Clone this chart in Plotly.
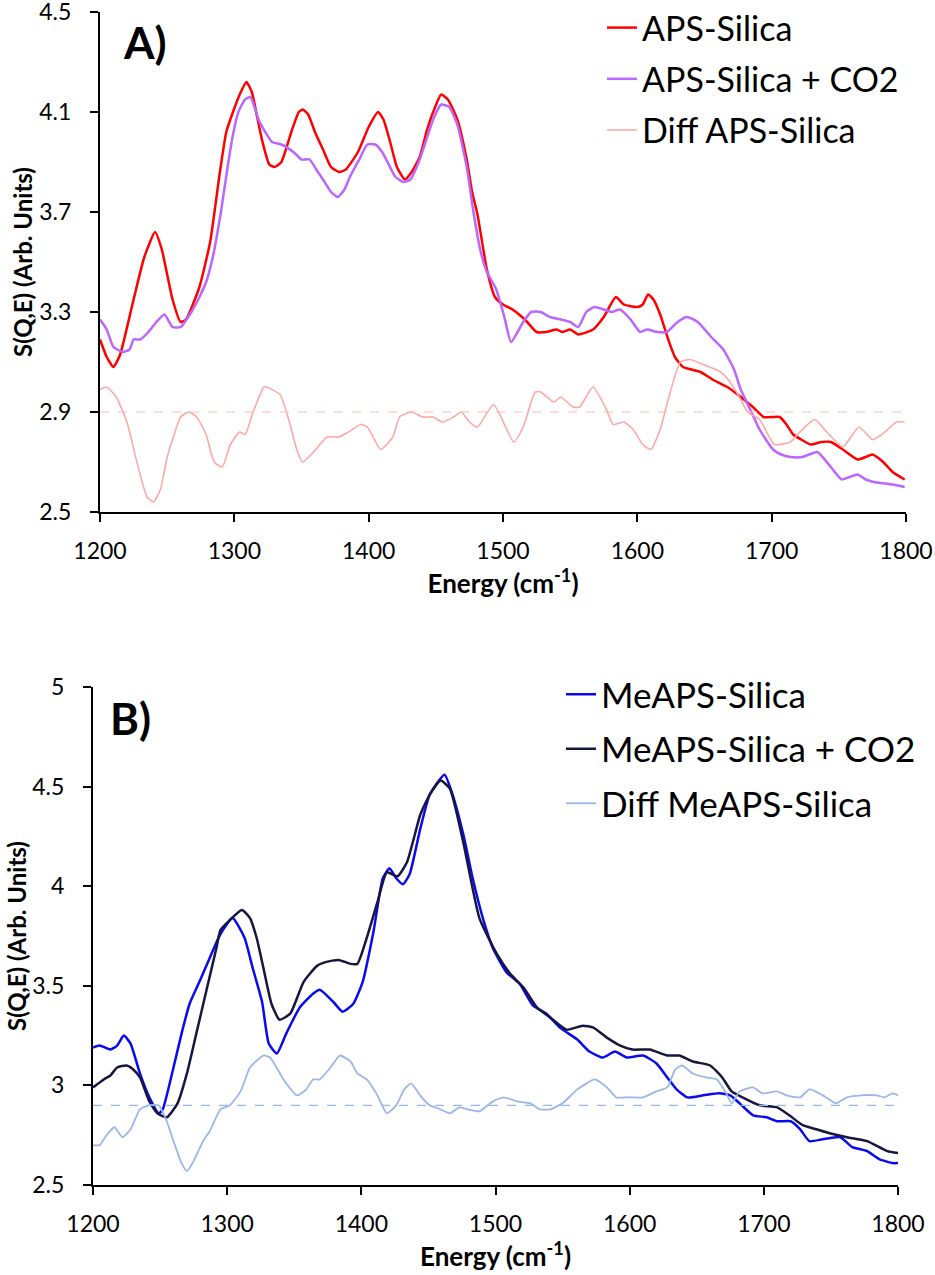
import plotly.graph_objects as go

# ---------------- data: panel A ----------------
aps_E = [1200, 1205, 1210, 1215, 1225, 1233, 1241, 1246, 1254, 1260, 1264, 1274, 1282, 1289, 1294,
         1299, 1304, 1309, 1313, 1317, 1321, 1326, 1330, 1335, 1343, 1348, 1351, 1355, 1360, 1366,
         1372, 1378, 1383, 1392, 1400, 1407, 1411, 1416, 1421, 1427, 1432, 1438, 1443, 1448, 1454,
         1459, 1466, 1473, 1477, 1481, 1488, 1494, 1500, 1507, 1512, 1518, 1525, 1532, 1540, 1544,
         1550, 1556, 1567, 1575, 1584, 1590, 1600, 1604, 1608, 1612, 1617, 1623, 1628, 1634, 1647,
         1656, 1667, 1677, 1686, 1694, 1701, 1706, 1711, 1716, 1722, 1729, 1737, 1744, 1753, 1764,
         1770, 1775, 1783, 1790, 1799]
aps_S = [3.19, 3.12, 3.08, 3.13, 3.35, 3.52, 3.62, 3.55, 3.35, 3.26, 3.27, 3.40, 3.58, 3.85, 4.02,
         4.10, 4.17, 4.22, 4.18, 4.08, 3.98, 3.89, 3.88, 3.90, 4.03, 4.10, 4.11, 4.09, 4.02, 3.95,
         3.88, 3.86, 3.87, 3.94, 4.04, 4.10, 4.07, 3.98, 3.88, 3.83, 3.86, 3.92, 4.02, 4.10, 4.17,
         4.15, 4.07, 3.91, 3.78, 3.69, 3.47, 3.36, 3.33, 3.31, 3.29, 3.26, 3.22, 3.22, 3.23, 3.22,
         3.23, 3.21, 3.23, 3.28, 3.36, 3.33, 3.32, 3.33, 3.37, 3.35, 3.29, 3.19, 3.12, 3.08, 3.06,
         3.03, 3.00, 2.96, 2.92, 2.88, 2.88, 2.88, 2.85, 2.81, 2.79, 2.77, 2.78, 2.78, 2.75, 2.71,
         2.72, 2.73, 2.70, 2.66, 2.63]

aps_co2_E = [1200, 1205, 1210, 1217, 1222, 1225, 1230, 1236, 1242, 1248, 1254, 1260, 1268, 1274, 1279,
             1284, 1290, 1295, 1299, 1303, 1308, 1312, 1315, 1318, 1323, 1328, 1335, 1344, 1350, 1356,
             1361, 1366, 1372, 1377, 1382, 1386, 1393, 1399, 1405, 1410, 1414, 1420, 1426, 1431, 1438,
             1443, 1448, 1454, 1460, 1466, 1473, 1478, 1483, 1488, 1495, 1501, 1506, 1515, 1521, 1528,
             1535, 1543, 1550, 1556, 1562, 1568, 1575, 1581, 1587, 1595, 1602, 1607, 1615, 1622, 1630,
             1637, 1645, 1655, 1664, 1672, 1677, 1684, 1691, 1701, 1707, 1714, 1723, 1734, 1744, 1752,
             1758, 1764, 1770, 1776, 1790, 1799]
aps_co2_S = [3.27, 3.23, 3.16, 3.14, 3.15, 3.19, 3.19, 3.22, 3.26, 3.29, 3.24, 3.24, 3.30, 3.36, 3.42,
             3.52, 3.70, 3.88, 4.01, 4.10, 4.15, 4.16, 4.12, 4.07, 4.02, 3.98, 3.97, 3.94, 3.91, 3.91,
             3.87, 3.83, 3.78, 3.76, 3.79, 3.84, 3.91, 3.97, 3.97, 3.94, 3.90, 3.84, 3.82, 3.83, 3.91,
             3.99, 4.07, 4.13, 4.12, 4.05, 3.88, 3.70, 3.55, 3.46, 3.39, 3.28, 3.18, 3.26, 3.30, 3.30,
             3.28, 3.27, 3.26, 3.24, 3.30, 3.32, 3.31, 3.30, 3.31, 3.27, 3.22, 3.23, 3.22, 3.22, 3.26,
             3.28, 3.26, 3.20, 3.15, 3.07, 2.99, 2.91, 2.83, 2.75, 2.73, 2.72, 2.72, 2.74, 2.68, 2.63,
             2.64, 2.65, 2.63, 2.62, 2.61, 2.60]

aps_diff_E = [1200, 1205, 1212, 1220, 1227, 1235, 1240, 1245, 1250, 1254, 1260, 1266, 1272, 1279, 1285,
              1291, 1297, 1304, 1308, 1314, 1322, 1324, 1334, 1341, 1347, 1351, 1359, 1369, 1378, 1385,
              1394, 1399, 1409, 1418, 1423, 1432, 1440, 1448, 1455, 1463, 1469, 1475, 1481, 1493, 1508,
              1515, 1524, 1528, 1538, 1543, 1552, 1557, 1567, 1577, 1582, 1590, 1597, 1604, 1610, 1617,
              1623, 1632, 1639, 1649, 1662, 1669, 1677, 1682, 1691, 1702, 1714, 1721, 1732, 1741, 1753,
              1765, 1775, 1782, 1793, 1799]
aps_diff_S = [2.99, 3.00, 2.96, 2.86, 2.71, 2.56, 2.54, 2.59, 2.72, 2.79, 2.88, 2.90, 2.88, 2.81, 2.70,
              2.68, 2.77, 2.82, 2.81, 2.90, 3.00, 3.00, 2.97, 2.86, 2.74, 2.70, 2.74, 2.80, 2.80, 2.82,
              2.85, 2.84, 2.75, 2.80, 2.88, 2.90, 2.88, 2.88, 2.86, 2.88, 2.90, 2.86, 2.84, 2.93, 2.78,
              2.84, 2.98, 2.98, 2.94, 2.96, 2.92, 2.92, 3.00, 2.91, 2.85, 2.86, 2.83, 2.77, 2.75, 2.83,
              2.95, 3.10, 3.11, 3.09, 3.06, 3.02, 2.95, 2.90, 2.87, 2.77, 2.78, 2.82, 2.87, 2.82, 2.76,
              2.84, 2.79, 2.81, 2.86, 2.86]

# ---------------- data: panel B ----------------
meaps_E = [1200, 1205, 1213, 1218, 1223, 1228, 1235, 1242, 1249, 1252, 1260, 1266, 1272, 1280, 1287,
           1295, 1304, 1313, 1319, 1326, 1331, 1337, 1344, 1354, 1364, 1369, 1379, 1386, 1394, 1401,
           1409, 1416, 1421, 1426, 1431, 1436, 1444, 1451, 1462, 1468, 1476, 1483, 1491, 1498, 1508,
           1518, 1528, 1538, 1548, 1561, 1570, 1580, 1589, 1598, 1610, 1620, 1628, 1635, 1643, 1655,
           1667, 1675, 1682, 1692, 1702, 1710, 1720, 1727, 1734, 1744, 1757, 1766, 1777, 1786, 1796,
           1800]
meaps_S = [3.19, 3.20, 3.18, 3.20, 3.25, 3.21, 3.06, 2.94, 2.86, 2.88, 3.09, 3.26, 3.41, 3.53, 3.64,
           3.76, 3.84, 3.74, 3.59, 3.42, 3.21, 3.16, 3.26, 3.39, 3.46, 3.48, 3.42, 3.37, 3.41, 3.52,
           3.77, 4.04, 4.09, 4.04, 4.01, 4.06, 4.29, 4.46, 4.56, 4.46, 4.26, 4.04, 3.83, 3.69, 3.57,
           3.51, 3.40, 3.36, 3.29, 3.23, 3.17, 3.14, 3.17, 3.14, 3.15, 3.11, 3.04, 2.98, 2.94, 2.95,
           2.96, 2.95, 2.91, 2.85, 2.84, 2.82, 2.82, 2.78, 2.72, 2.73, 2.74, 2.69, 2.67, 2.63, 2.61,
           2.61]

meaps_co2_E = [1200, 1208, 1213, 1218, 1225, 1230, 1235, 1242, 1248, 1255, 1263, 1270, 1277, 1285, 1292,
               1295, 1302, 1311, 1317, 1322, 1327, 1333, 1339, 1347, 1357, 1367, 1374, 1383, 1392, 1397,
               1404, 1412, 1419, 1427, 1434, 1444, 1451, 1459, 1466, 1476, 1488, 1501, 1511, 1521, 1531,
               1541, 1553, 1565, 1573, 1583, 1593, 1602, 1615, 1628, 1637, 1647, 1660, 1669, 1676, 1687,
               1697, 1710, 1719, 1729, 1739, 1749, 1762, 1777, 1792, 1800]
meaps_co2_S = [2.99, 3.03, 3.05, 3.09, 3.10, 3.08, 3.04, 2.92, 2.86, 2.84, 2.91, 3.06, 3.26, 3.49, 3.69,
               3.78, 3.83, 3.88, 3.84, 3.74, 3.59, 3.41, 3.33, 3.36, 3.52, 3.60, 3.62, 3.63, 3.61, 3.61,
               3.74, 3.92, 4.07, 4.05, 4.12, 4.36, 4.46, 4.53, 4.49, 4.22, 3.84, 3.66, 3.56, 3.49, 3.39,
               3.34, 3.28, 3.30, 3.29, 3.24, 3.20, 3.18, 3.18, 3.15, 3.15, 3.12, 3.10, 3.04, 2.97, 2.93,
               2.90, 2.89, 2.85, 2.80, 2.78, 2.76, 2.74, 2.72, 2.67, 2.66]

meaps_diff_E = [1200, 1205, 1210, 1216, 1222, 1228, 1235, 1242, 1249, 1255, 1260, 1266, 1270, 1275, 1282,
                1287, 1295, 1302, 1310, 1317, 1327, 1332, 1342, 1352, 1359, 1364, 1369, 1377, 1384, 1392,
                1397, 1404, 1412, 1419, 1426, 1432, 1437, 1445, 1451, 1459, 1466, 1473, 1479, 1488, 1498,
                1506, 1516, 1526, 1533, 1541, 1550, 1561, 1574, 1583, 1590, 1600, 1610, 1620, 1628, 1634,
                1639, 1647, 1657, 1665, 1672, 1676, 1682, 1692, 1699, 1710, 1717, 1727, 1734, 1744, 1754,
                1762, 1772, 1784, 1790, 1796, 1800]
meaps_diff_S = [2.70, 2.70, 2.75, 2.79, 2.74, 2.78, 2.88, 2.90, 2.90, 2.82, 2.72, 2.61, 2.57, 2.62, 2.72,
                2.77, 2.88, 2.90, 2.97, 3.09, 3.15, 3.14, 3.03, 2.95, 2.98, 3.03, 3.03, 3.09, 3.15, 3.12,
                3.06, 3.03, 2.95, 2.86, 2.90, 2.98, 3.01, 2.94, 2.90, 2.88, 2.86, 2.89, 2.88, 2.87, 2.92,
                2.94, 2.92, 2.91, 2.88, 2.88, 2.91, 2.98, 3.03, 2.99, 2.94, 2.94, 2.94, 2.97, 2.99, 3.08,
                3.10, 3.06, 3.04, 3.03, 2.96, 2.91, 2.97, 2.99, 2.96, 2.97, 2.95, 2.94, 2.98, 2.95, 2.91,
                2.94, 2.95, 2.95, 2.94, 2.96, 2.95]

baseline_E = [1200, 1800]
baseline_S = [2.9, 2.9]

x_ticks = [1200, 1300, 1400, 1500, 1600, 1700, 1800]
ya_ticks = [2.5, 2.9, 3.3, 3.7, 4.1, 4.5]
yb_ticks = [2.5, 3, 3.5, 4, 4.5, 5]

W, H = 935, 1275
FONT = "Lato"


def px_x(p):
    return p / W


def px_y(p):
    return 1 - p / H


fig = go.Figure()


def curve(x, y, name, color, width, xa, ya, leg):
    return go.Scatter(x=x, y=y, name=name, legendgroup=name, mode="lines", xaxis=xa, yaxis=ya,
                      legend=leg, line=dict(color=color, width=width, shape="spline", smoothing=0.5))


# panel A
fig.add_trace(curve(aps_E, aps_S, "APS-Silica", "#FF0000", 2.5, "x", "y", "legend"))
fig.add_trace(curve(aps_co2_E, aps_co2_S, "APS-Silica + CO2", "#BB66FF", 2.5, "x", "y", "legend"))
fig.add_trace(curve(aps_diff_E, aps_diff_S, "Diff APS-Silica", "#FFA8A8", 1.6, "x", "y", "legend"))
fig.add_trace(go.Scatter(x=baseline_E, y=baseline_S, mode="lines", showlegend=False,
                         line=dict(color="#FFB8B8", width=1.2, dash="dash"), xaxis="x", yaxis="y"))

# panel B
fig.add_trace(curve(meaps_E, meaps_S, "MeAPS-Silica", "#0A0AF0", 2.5, "x2", "y2", "legend2"))
fig.add_trace(curve(meaps_co2_E, meaps_co2_S, "MeAPS-Silica + CO2", "#16163F", 2.5, "x2", "y2", "legend2"))
fig.add_trace(curve(meaps_diff_E, meaps_diff_S, "Diff MeAPS-Silica", "#9AB6EA", 1.8, "x2", "y2", "legend2"))
fig.add_trace(go.Scatter(x=baseline_E, y=baseline_S, mode="lines", showlegend=False,
                         line=dict(color="#9AB6EA", width=1.2, dash="dash"), xaxis="x2", yaxis="y2"))

axis_common = dict(showline=True, linecolor="black", linewidth=2, showgrid=False, zeroline=False,
                   ticks="outside", ticklen=8, tickwidth=1.5, tickcolor="black", ticklabeloverflow="allow",
                   tickfont=dict(family=FONT, size=23, color="black"))
xtitle_font = dict(family=FONT, size=26, color="black", weight="bold")
ytitle_font = dict(family=FONT, size=24, color="black")
xtitle = "Energy (cm<sup>-1</sup>)"
ytitle = "<b>S(Q,E) (Arb. Units)</b>"

fig.update_layout(
    width=W, height=H,
    margin=dict(l=0, r=0, t=0, b=0, autoexpand=False),
    paper_bgcolor="white", plot_bgcolor="white",
    font=dict(family=FONT, color="black"),
    xaxis=dict(domain=[px_x(100), px_x(906)], range=[1200, 1800], tickvals=x_ticks, anchor="y",
               ticklabelstandoff=9,
               title=dict(text=xtitle, font=xtitle_font, standoff=10), **axis_common),
    yaxis=dict(domain=[px_y(512), px_y(12)], range=[2.5, 4.5], tickvals=ya_ticks,
               ticktext=[f"{v:.1f}" for v in ya_ticks], anchor="x", ticklabelstandoff=14, **axis_common),
    xaxis2=dict(domain=[px_x(93), px_x(898)], range=[1200, 1800], tickvals=x_ticks, anchor="y2",
                ticklabelstandoff=9,
                title=dict(text=xtitle, font=xtitle_font, standoff=10), **axis_common),
    yaxis2=dict(domain=[px_y(1185), px_y(687)], range=[2.5, 5], tickvals=yb_ticks,
                ticktext=[f"{v:g}" for v in yb_ticks], anchor="x2", ticklabelstandoff=14, **axis_common),
    legend=dict(x=px_x(602), y=px_y(-1), xanchor="left", yanchor="top", bgcolor="rgba(0,0,0,0)",
                font=dict(family=FONT, size=34, color="black"), itemwidth=30, tracegroupgap=4),
    legend2=dict(x=px_x(561), y=px_y(665), xanchor="left", yanchor="top", bgcolor="rgba(0,0,0,0)",
                 font=dict(family=FONT, size=35, color="black"), itemwidth=30, tracegroupgap=6),
    annotations=[
        dict(text="<b>A)</b>", x=px_x(121), y=px_y(42), xref="paper", yref="paper",
             xanchor="left", yanchor="middle", showarrow=False,
             font=dict(family=FONT, size=44, color="black")),
        dict(text="<b>B)</b>", x=px_x(108), y=px_y(718), xref="paper", yref="paper",
             xanchor="left", yanchor="middle", showarrow=False,
             font=dict(family=FONT, size=44, color="black")),
        # y-axis titles
        dict(text=ytitle, x=px_x(22), y=px_y(262), xref="paper", yref="paper", textangle=-90,
             xanchor="center", yanchor="middle", showarrow=False, font=ytitle_font),
        dict(text=ytitle, x=px_x(16), y=px_y(936), xref="paper", yref="paper", textangle=-90,
             xanchor="center", yanchor="middle", showarrow=False, font=ytitle_font),
    ],
)

# drop the page's default body margin so the figure sits at the window's top-left corner
fig.write_html("out.html", config={"displayModeBar": False},
               post_script="document.body.style.margin = '0';")
